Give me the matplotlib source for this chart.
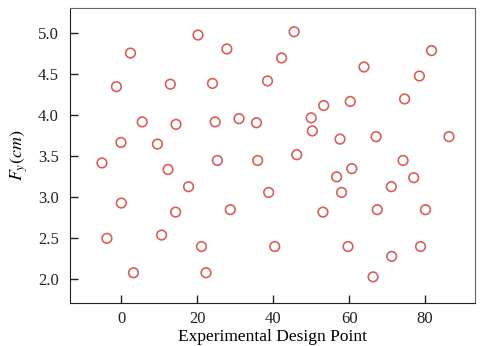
import matplotlib
matplotlib.use('Agg')
import matplotlib.pyplot as plt

# design point index (x) and F_y in cm (y)
design_point = [
    20.2, 27.8, 2.4, -1.3, 12.9, 24.0, 5.5, 14.4, 24.7, 31.0,
    -0.1, 9.5, -5.1, 25.3, 12.3,
    45.5, 42.2, 38.5, 81.7, 63.9, 78.5, 74.6, 60.3, 53.3, 35.6,
    50.0, 50.3, 57.6, 67.1, 86.3, 35.9, 46.2, 74.2, 56.7, 60.7, 77.0,
    17.7, 0.0, 14.3, 28.7, -3.8, 10.6, 21.1, 3.2, 22.3,
    38.8, 71.1, 58.0, 53.1, 67.4, 80.1, 40.4, 59.7, 78.8, 71.2, 66.3,
]
fy_cm = [
    4.98, 4.81, 4.76, 4.35, 4.38, 4.39, 3.92, 3.89, 3.92, 3.96,
    3.67, 3.65, 3.42, 3.45, 3.34,
    5.02, 4.70, 4.42, 4.79, 4.59, 4.48, 4.20, 4.17, 4.12, 3.91,
    3.97, 3.81, 3.71, 3.74, 3.74, 3.45, 3.52, 3.45, 3.25, 3.35, 3.24,
    3.13, 2.93, 2.82, 2.85, 2.50, 2.54, 2.40, 2.08, 2.08,
    3.06, 3.13, 3.06, 2.82, 2.85, 2.85, 2.40, 2.40, 2.40, 2.28, 2.03,
]
x_ticks = [0, 20, 40, 60, 80]
y_ticks = [2.0, 2.5, 3.0, 3.5, 4.0, 4.5, 5.0]

plt.rcParams['font.family'] = ['Liberation Serif', 'DejaVu Serif']
plt.rcParams['mathtext.fontset'] = 'stix'

fig = plt.figure(figsize=(4.8, 3.46), dpi=100)
ax = fig.add_axes([0.146, 0.124, 0.844, 0.853])

ax.scatter(design_point, fy_cm, s=48, facecolors='none',
           edgecolors='#d9605a', linewidths=1.2)

ax.set_xlim(-13.5, 93.2)
ax.set_ylim(1.71, 5.31)
ax.set_xticks(x_ticks)
ax.set_yticks(y_ticks)
ax.set_yticklabels([f'{v:.1f}' for v in y_ticks])
ax.tick_params(labelsize=12, direction='in', length=6, width=1,
               color='#222222', labelcolor='#222222')
ax.tick_params(axis='x', pad=6)
ax.tick_params(axis='y', pad=8)

for side in ['top', 'right']:
    ax.spines[side].set_color('#666666')
for side in ['left', 'bottom']:
    ax.spines[side].set_color('#222222')

ax.set_xlabel('Experimental Design Point', fontsize=12.5, labelpad=1)
ax.set_ylabel('$F_y(cm)$', fontsize=13, labelpad=6)

fig.savefig('out.png', dpi=100)
